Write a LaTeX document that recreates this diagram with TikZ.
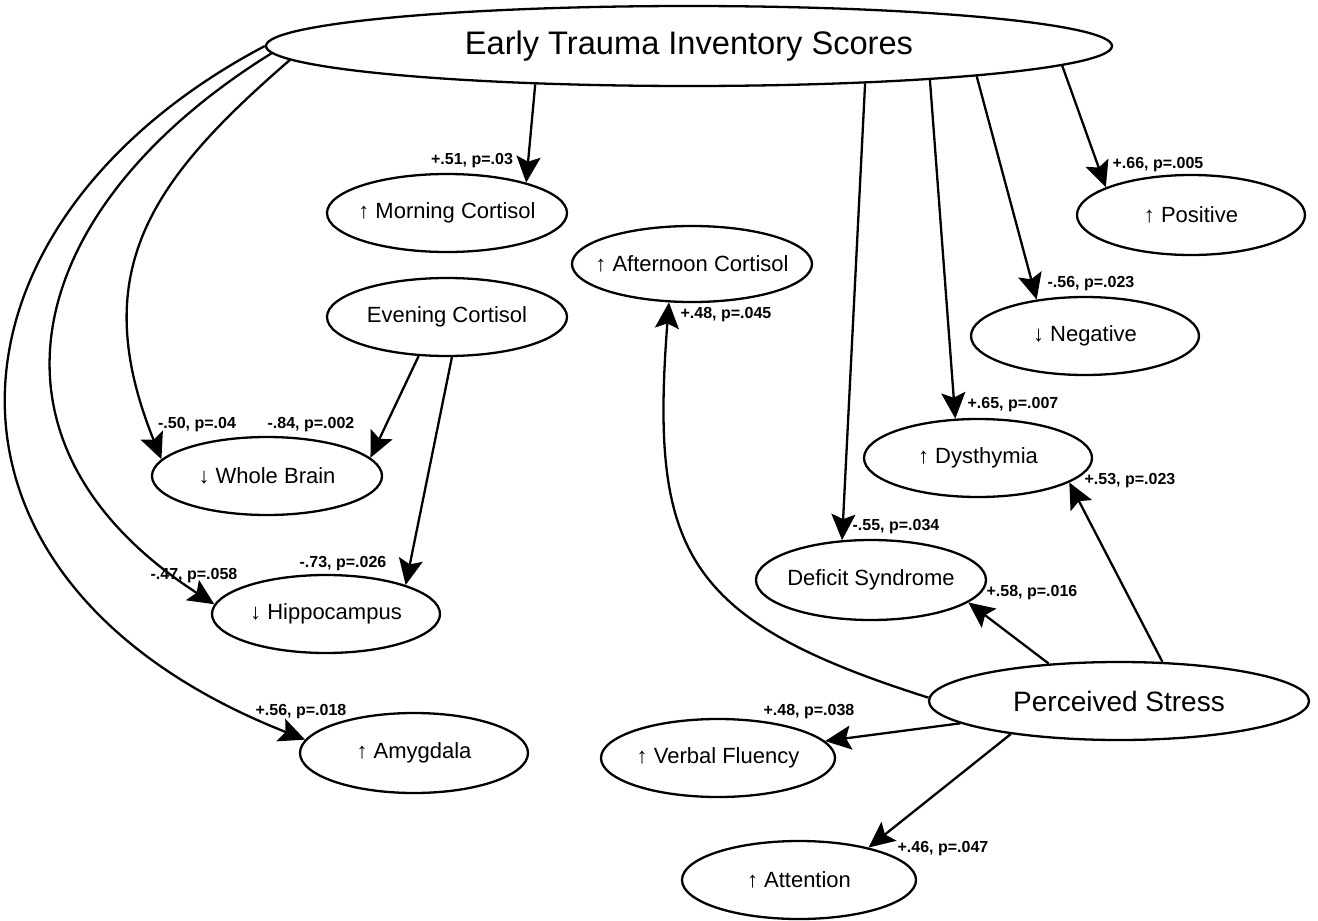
\documentclass[tikz,border=0pt]{standalone}
\usepackage{fontspec}
\setmainfont{Liberation Sans}
\usetikzlibrary{shapes.geometric, arrows.meta}

\begin{document}
\begin{tikzpicture}[ x = 0.5pt, y = -0.5pt
                   , line width = 1.15pt
                   , >={Stealth[length=13pt, width=12pt, inset=2.5pt]}
                   , var/.style = { ellipse
                                  , draw = black
                                  , inner xsep = -12pt
                                  , minimum width = 116pt
                                  , minimum height = 39pt
                                  , font = \fontsize{11}{13}\selectfont }
                   , val/.style = { inner sep = 0pt
                                  , font = \bfseries\fontsize{8}{10}\selectfont }
                   ]
  \useasboundingbox (0,0) rectangle (1318,921);

  % variables
  \node (eti) [var, minimum width = 423pt, minimum height = 40pt, font = \fontsize{16.3}{19}\selectfont] at (689,46) {Early Trauma Inventory Scores};
  \node (morning) [var, minimum width = 120pt] at (447,213) {↑ Morning Cortisol};
  \node (afternoon) [var, minimum width = 120pt, minimum height = 38pt] at (692,264) {↑ Afternoon Cortisol};
  \node (evening) [var, minimum width = 120pt] at (447,317) {Evening Cortisol};
  \node (brain) [var, minimum width = 115pt] at (267,476) {↓ Whole Brain};
  \node (hippo) [var, minimum width = 114pt] at (326,614) {↓ Hippocampus};
  \node (amyg) [var, minimum width = 114pt, minimum height = 40pt] at (414,753) {↑ Amygdala};
  \node (positive) [var, minimum width = 114pt, minimum height = 40pt] at (1191,215) {↑ Positive};
  \node (negative) [var, minimum width = 114pt] at (1085,336) {↓ Negative};
  \node (dysthymia) [var, minimum width = 114pt] at (978,458) {↑ Dysthymia};
  \node (deficit) [var, minimum width = 115pt, minimum height = 40pt] at (871,580) {Deficit Syndrome};
  \node (stress) [var, minimum width = 190pt, font = \fontsize{14}{17}\selectfont] at (1119,701) {Perceived Stress};
  \node (verbal) [var, minimum width = 117pt] at (718,758) {↑ Verbal Fluency};
  \node (attention) [var, minimum width = 117pt] at (799,880) {↑ Attention};

  % paths from early trauma
  \draw[->] (eti.194.4) -- (morning.21.7);
  \draw[->] (eti.-3.47) -- (positive.162.2);
  \draw[->] (eti.-6.16) -- (negative.143.6);
  \draw[->] (eti.-8.25) -- (dysthymia.120.7);
  \draw[->] (eti.-12.08) -- (deficit.126.8);
  \draw[->] (eti.182.9) .. controls (150,181) and (86,272) .. (brain.171.5);
  \draw[->] (eti.181.5) .. controls (22,208) and (-37,442) .. (hippo.175);
  \draw[->] (eti.180.5) .. controls (-71,223) and (-100,580) .. (amyg.173);

  % paths from evening cortisol
  \draw[->] (evening.234.6) -- (brain.10.9);
  \draw[->] (evening.277.3) -- (hippo.20.5);

  % paths from perceived stress
  \draw[->] (stress.179) .. controls (683,620) and (650,551) .. (afternoon.239.5);
  \draw[->] (stress.152.3) -- (deficit.-13);
  \draw[->] (stress.42.9) -- (dysthymia.-15);
  \draw[->] (stress.188.9) -- (verbal.9);
  \draw[->] (stress.197.9) -- (attention.25);

  % coefficients
  \node (morningval) [val] at (472,161) {+.51, p=.03};
  \node (positiveval) [val] at (1158,165) {+.66, p=.005};
  \node (negativeval) [val] at (1091,284) {-.56, p=.023};
  \node (dysthymiaval) [val] at (1013,405) {+.65, p=.007};
  \node (deficitval) [val] at (896,527) {-.55, p=.034};
  \node (dysstressval) [val] at (1130,481) {+.53, p=.023};
  \node (defstressval) [val] at (1032,593) {+.58, p=.016};
  \node (afternoonval) [val] at (726,315) {+.48, p=.045};
  \node (brainval) [val] at (197,425) {-.50, p=.04};
  \node (brainevval) [val] at (311,425) {-.84, p=.002};
  \node (hippoevval) [val] at (343,564) {-.73, p=.026};
  \node (hippoval) [val] at (194,576) {-.47, p=.058};
  \node (amygval) [val] at (301,712) {+.56, p=.018};
  \node (verbalval) [val] at (809,712) {+.48, p=.038};
  \node (attentionval) [val] at (943,849) {+.46, p=.047};

\end{tikzpicture}
\end{document}
